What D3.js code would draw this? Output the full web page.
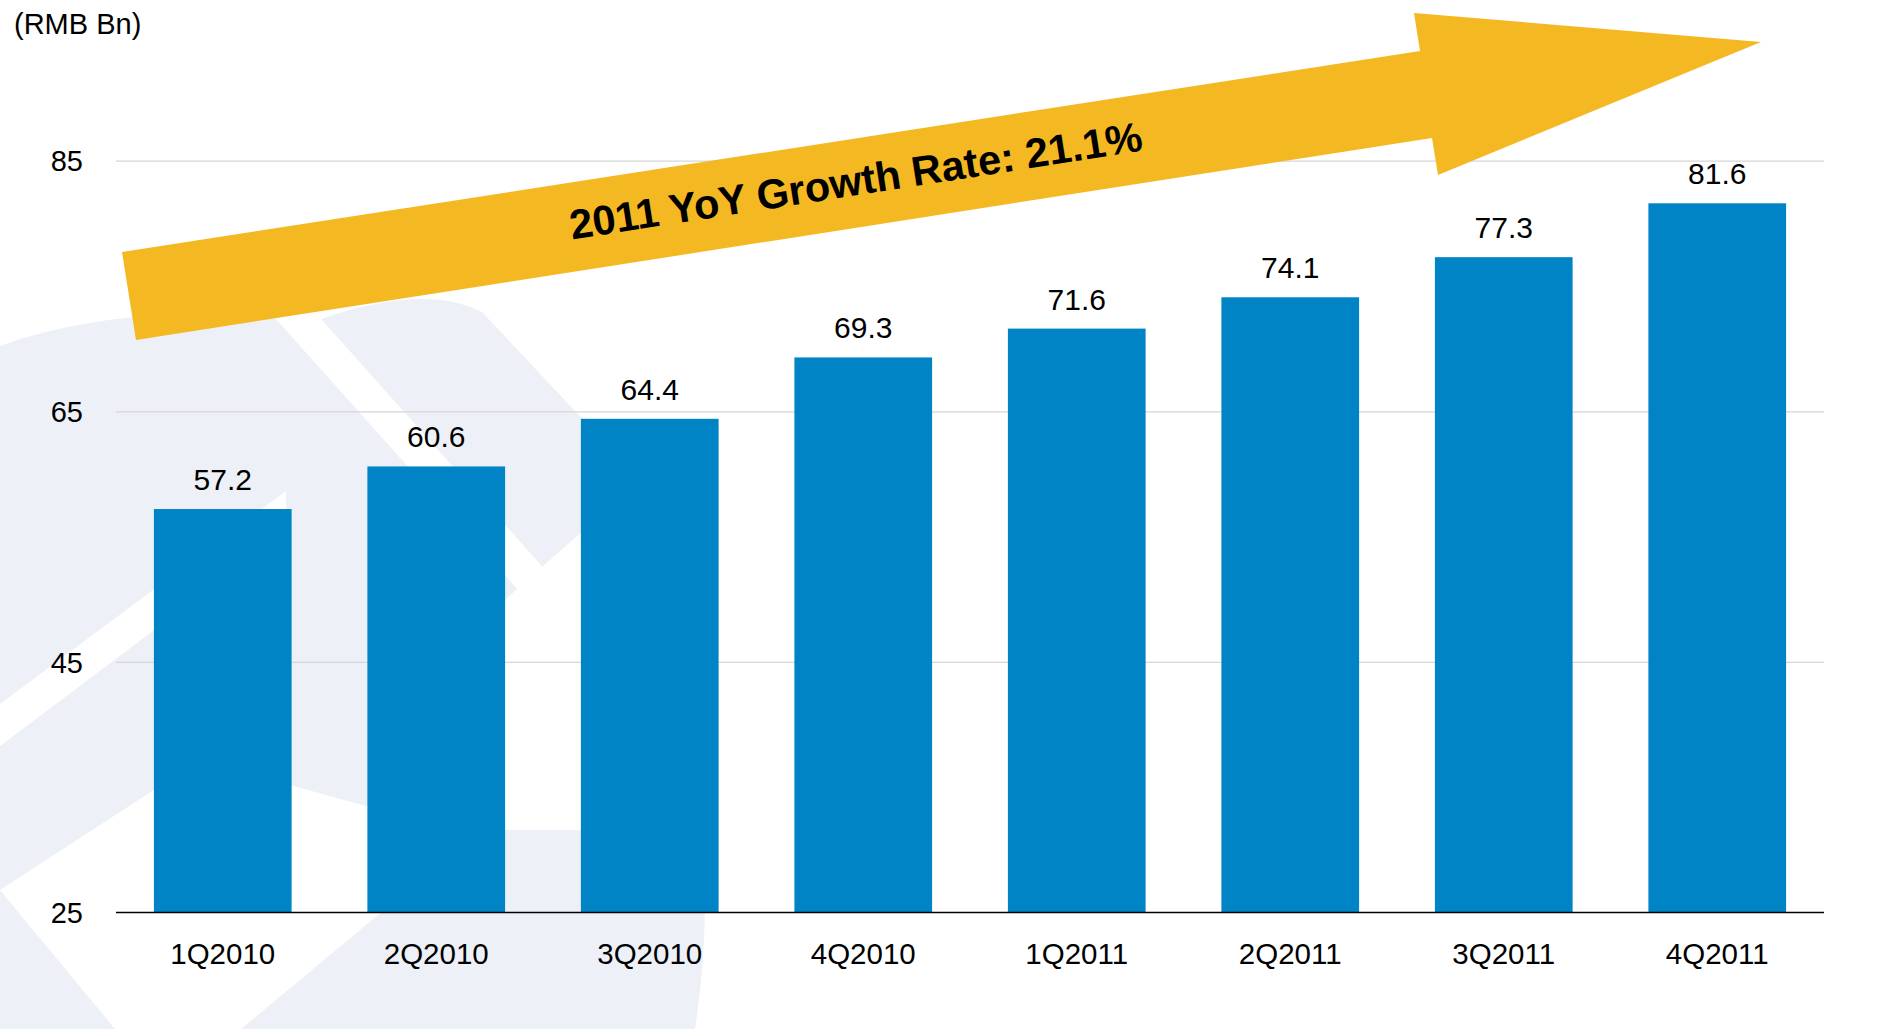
<!DOCTYPE html>
<html>
<head>
<meta charset="utf-8">
<script src="https://cdn.jsdelivr.net/npm/d3@7"></script>
<style>
  html, body { margin: 0; padding: 0; background: #ffffff; }
  svg { display: block; }
  text { font-family: "Liberation Sans", Arial, sans-serif; fill: #000; }
</style>
</head>
<body>
<svg id="chart" width="1880" height="1029"></svg>
<script>
// Quarterly figures, RMB billions
const quarters = ["1Q2010", "2Q2010", "3Q2010", "4Q2010", "1Q2011", "2Q2011", "3Q2011", "4Q2011"];
const values = [57.2, 60.6, 64.4, 69.3, 71.6, 74.1, 77.3, 81.6];
const yTicks = [25, 45, 65, 85];
const unitLabel = "(RMB Bn)";
const growthLabel = "2011 YoY Growth Rate: 21.1%";

const W = 1880, H = 1029;
const margin = { left: 116, right: 56, top: 160.7, bottom: 116.5 };
const svg = d3.select("#chart");

// Faint logo watermark behind the plot: one pale shape cut by white bands
const wm = svg.append("g");
wm.append("path")
  .attr("fill", "#edf0f6")
  .attr("d", "M0,346 C80,316 200,306 276,319 L321,319 C380,298 440,290 482,312 " +
             "L640,480 L505,600 L505,830 L703,830 C708,900 704,970 695,1029 L0,1029 Z");
const cut = d3.line();
[
  [[276,319],[321,319],[590,620],[545,620]],
  [[0,704],[0,746],[286,531],[286,491]],
  [[0,890],[200,760],[380,810],[420,880],[241,1029],[115,1029]]
].forEach(pts => wm.append("path").attr("fill", "#ffffff").attr("d", cut(pts) + "Z"));

const x = d3.scaleBand()
  .domain(quarters)
  .range([margin.left, W - margin.right])
  .paddingInner(0.355)
  .paddingOuter(0.1775);

const y = d3.scaleLinear()
  .domain([25, 85])
  .range([H - margin.bottom, margin.top]);

// Horizontal gridlines and value ticks
const yAxis = d3.axisLeft(y).tickValues(yTicks).tickSize(-(W - margin.left - margin.right)).tickPadding(33);
const gy = svg.append("g").attr("transform", `translate(${margin.left},0)`).call(yAxis);
gy.select(".domain").remove();
gy.selectAll(".tick line").attr("stroke", "#d6d6d6").attr("stroke-width", 1.3);
gy.selectAll(".tick text")
  .attr("font-size", 29)
  .attr("font-family", "Liberation Sans, Arial, sans-serif")
  .attr("fill", "#000")
  .attr("dy", "0.35em");
gy.selectAll(".tick").filter(d => d === 25).select("line").attr("stroke", "none");

// Bars
svg.append("g").selectAll("rect")
  .data(values)
  .join("rect")
  .attr("x", (d, i) => x(quarters[i]))
  .attr("width", x.bandwidth())
  .attr("y", d => y(d))
  .attr("height", d => y(25) - y(d))
  .attr("fill", "#0084c5");

// Baseline
svg.append("line")
  .attr("x1", margin.left).attr("x2", W - margin.right)
  .attr("y1", y(25)).attr("y2", y(25))
  .attr("stroke", "#000").attr("stroke-width", 1.6);

// Value labels
svg.append("g").selectAll("text")
  .data(values)
  .join("text")
  .attr("x", (d, i) => x(quarters[i]) + x.bandwidth() / 2)
  .attr("y", d => y(d) - 19)
  .attr("text-anchor", "middle")
  .attr("font-size", 30)
  .text(d => d.toFixed(1));

// Category labels
const xAxis = d3.axisBottom(x).tickSize(0).tickPadding(31);
const gx = svg.append("g").attr("transform", `translate(0,${y(25)})`).call(xAxis);
gx.select(".domain").remove();
gx.selectAll(".tick text")
  .attr("font-size", 29.5)
  .attr("font-family", "Liberation Sans, Arial, sans-serif")
  .attr("fill", "#000");

// Unit label
svg.append("text")
  .attr("x", 14).attr("y", 34)
  .attr("font-size", 29)
  .text(unitLabel);

// Growth arrow
const arrowPts = [
  [122, 252], [1420, 51], [1414, 13], [1761, 42],
  [1438, 175], [1432, 138], [136, 340]
];
svg.append("path")
  .attr("d", "M" + arrowPts.map(p => p.join(",")).join("L") + "Z")
  .attr("fill", "#f4b823");

const angle = Math.atan2(138 - 340, 1432 - 136) * 180 / Math.PI;
svg.append("text")
  .attr("transform", `translate(858,195) rotate(${angle})`)
  .attr("text-anchor", "middle")
  .attr("font-size", 41.5)
  .attr("font-weight", "bold")
  .text(growthLabel);
</script>
</body>
</html>
